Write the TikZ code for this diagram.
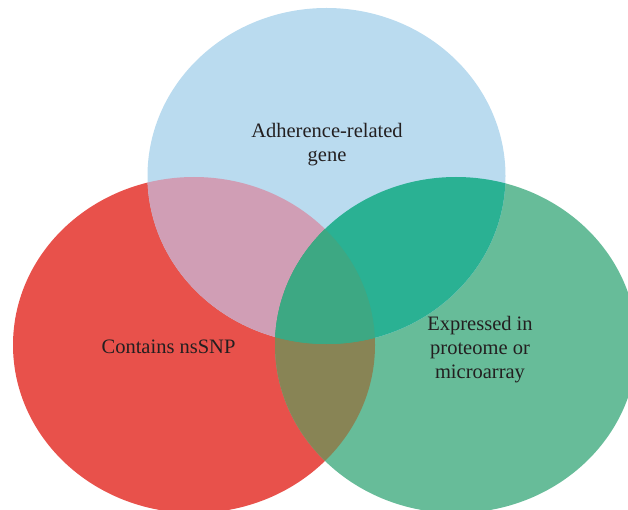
\documentclass[tikz,border=0pt]{standalone}
\usepackage{fontspec}
\setmainfont{Liberation Serif}

\definecolor{setred}{HTML}{E8514B}
\definecolor{setblue}{HTML}{BADBEF}
\definecolor{setgreen}{HTML}{67BC99}
\definecolor{redblue}{HTML}{D09EB5}
\definecolor{bluegreen}{HTML}{2AB193}
\definecolor{redgreen}{HTML}{888455}
\definecolor{allthree}{HTML}{3DA883}
\definecolor{labeltext}{HTML}{231F20}

\def\redset{(CR) ellipse[x radius=181pt,y radius=168pt]}
\def\blueset{(CB) ellipse[x radius=179pt,y radius=168pt]}
\def\greenset{(CG) ellipse[x radius=181pt,y radius=168pt]}

\begin{document}
\begin{tikzpicture}[
  x=1pt,y=-1pt,
  line join=round,
  setlabel/.style={font=\fontsize{20.5}{24}\selectfont,text=labeltext,align=center,inner sep=0pt}
]
  \useasboundingbox (0,0) rectangle (628,510);
  \clip (0,0) rectangle (628,510);

  \coordinate (CR) at (194,345);
  \coordinate (CB) at (326.5,176);
  \coordinate (CG) at (456,345);

  % single sets
  \fill[setred] \redset;
  \fill[setgreen] \greenset;
  \fill[setblue] \blueset;

  % pairwise overlaps
  \begin{scope}
    \clip \redset;
    \fill[redblue] \blueset;
    \fill[redgreen] \greenset;
  \end{scope}
  \begin{scope}
    \clip \blueset;
    \fill[bluegreen] \greenset;
  \end{scope}

  % all three
  \begin{scope}
    \clip \redset;
    \clip \blueset;
    \fill[allthree] \greenset;
  \end{scope}

  % labels (base = last line)
  \node[setlabel,anchor=base] (adh) at (327,162) {Adherence-related\\gene};
  \node[setlabel,anchor=base] (snp) at (168.5,353) {Contains nsSNP};
  \node[setlabel,anchor=base] (expr) at (480,378) {Expressed in\\proteome or\\microarray};
\end{tikzpicture}
\end{document}
